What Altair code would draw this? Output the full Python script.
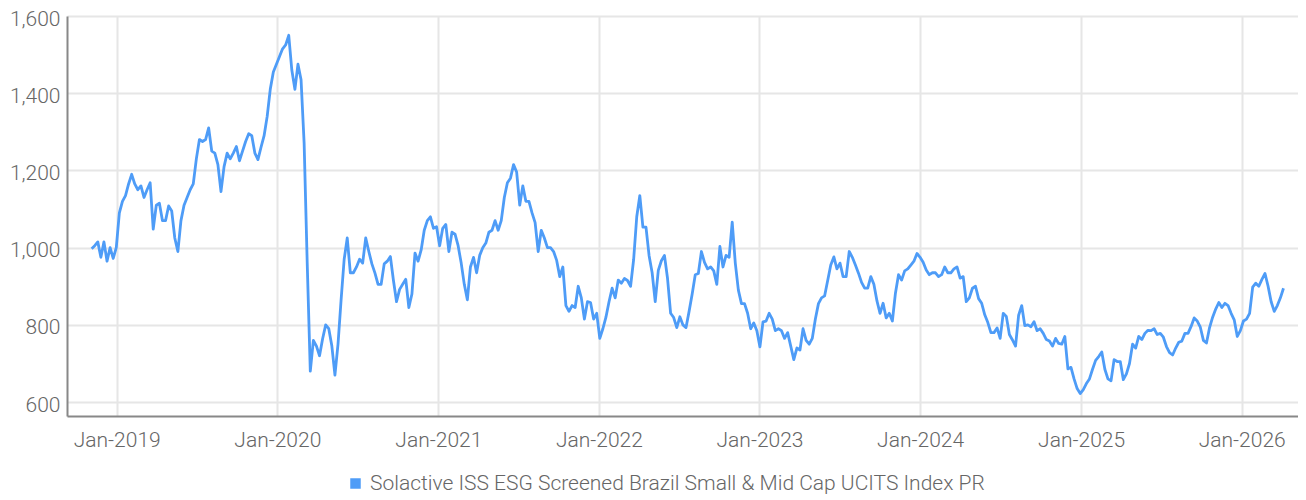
import altair as alt
import pandas as pd

series_name = "Solactive ISS ESG Screened Brazil Small & Mid Cap UCITS Index PR"
line_color = "#4e9cf7"

# weekly readings starting 2018-11-05
start_date = "2018-11-05"
step = "7D"

values_2018_2020 = [
    997, 1005, 1015, 975, 1015, 965, 1000, 972, 1000, 1090,
    1120, 1135, 1165, 1190, 1165, 1150, 1160, 1130, 1150, 1168,
    1048, 1110, 1115, 1070, 1070, 1108, 1095, 1025, 990, 1070,
    1110, 1130, 1150, 1165, 1230, 1280, 1275, 1280, 1310, 1250,
    1245, 1215, 1145, 1210, 1245, 1230, 1245, 1262, 1225, 1250,
    1275, 1295, 1290, 1245, 1228, 1260, 1290, 1340, 1410, 1455,
    1475, 1495, 1515, 1525, 1550, 1460, 1410, 1475,
]
values_2020_2021 = [
    1435, 1270, 960, 680, 760, 745, 720, 764, 800, 790,
    745, 670, 750, 865, 970, 1025, 935, 935, 950, 970,
    960, 1025, 990, 958, 934, 905, 905, 958, 965, 977,
    915, 860, 892, 905, 918, 845, 880, 986, 965, 994,
    1045, 1070, 1080, 1050, 1054, 1005, 1050, 1060, 990, 1040,
    1035, 1005, 960, 905, 865, 950, 975, 935, 980, 1000,
    1012, 1040, 1045, 1070, 1045, 1070, 1130,
]
values_2021_2023 = [
    1168, 1180, 1215, 1196, 1110, 1160, 1120, 1120, 1090, 1065,
    990, 1045, 1025, 1000, 1000, 990, 967, 925, 950, 850,
    835, 850, 845, 900, 870, 815, 860, 858, 815, 830,
    765, 790, 820, 860, 895, 870, 916, 908, 920, 915,
    900, 970, 1080, 1135, 1053, 1053, 980, 935, 860, 941,
    966, 980, 920, 830, 819, 793, 821, 800, 793, 835,
    880, 930, 933, 990, 962, 945, 950, 940, 905, 1003,
    950, 980, 975, 1066, 960, 890, 855, 855, 830, 790,
    805, 785, 743, 808, 810, 830, 815, 785, 790, 785,
    765, 780, 745, 710, 740, 735, 790, 760, 750, 765,
    815, 855, 870, 875, 915, 955, 976, 945, 960, 925,
    925, 990,
]
values_2023_2024 = [
    975, 955, 934, 910, 895, 895, 925, 905, 862, 830,
    856, 818, 830, 810, 882, 930, 916, 940, 945, 955,
    965,
    985, 975, 962, 942, 930, 935, 935, 925, 930, 950,
    935, 935, 945, 950, 921, 925, 860, 870, 895, 900,
    868, 856, 826, 806, 780, 780, 792, 765, 830, 822,
    775, 761, 745, 825, 850, 798, 800, 795, 808, 785,
    790, 778, 762, 758, 745, 765, 752, 750, 770, 686,
    690, 660, 635, 622, 632, 648, 660, 685, 708, 718,
    730, 685, 660,
]
values_2025_2026 = [
    655, 710, 705, 705, 658, 673, 700, 750, 740, 770,
    762, 778, 786, 785, 790, 775, 778, 768, 744, 728,
    722, 740, 755, 758, 778, 778, 796, 818, 810, 794,
    760, 753, 793, 820, 841, 858, 845, 856, 850, 830,
    813, 770, 785, 810, 815, 830, 898, 908, 900, 918,
    933, 900, 860, 835, 850, 870, 895,
]

y_ticks = [600, 800, 1000, 1200, 1400, 1600]
x_tick_years = [2019, 2020, 2021, 2022, 2023, 2024, 2025, 2026]

values = values_2018_2020 + values_2020_2021 + values_2021_2023 + values_2023_2024 + values_2025_2026
dates = pd.date_range(start_date, periods=len(values), freq=step)
df = pd.DataFrame({
    "date": dates.strftime("%Y-%m-%d"),
    "value": values,
    "series": series_name,
})

font = "Roboto"
label_color = "#666666"
fs = 21

chart = alt.Chart(df).mark_line(strokeWidth=2.8, strokeJoin="round").encode(
    x=alt.X(
        "date:T",
        title=None,
        scale=alt.Scale(domain=[alt.DateTime(year=2018, month=9, date=10),
                                alt.DateTime(year=2026, month=5, date=9)]),
        axis=alt.Axis(
            values=[alt.DateTime(year=y, month=1, date=1) for y in x_tick_years],
            format="%b-%Y",
            ticks=False,
            grid=True,
            gridColor="#e6e6e6",
            gridWidth=2,
            domainColor="#888888",
            domainWidth=2,
            labelFont=font,
            labelFontSize=fs,
            labelFontWeight=300,
            labelColor=label_color,
            labelPadding=13,
            labelFlush=False,
            labelOverlap=False,
        ),
    ),
    y=alt.Y(
        "value:Q",
        title=None,
        scale=alt.Scale(domain=[564, 1600], nice=False, zero=False),
        axis=alt.Axis(
            values=y_ticks,
            format=",d",
            ticks=False,
            grid=True,
            gridColor="#e6e6e6",
            gridWidth=2,
            domainColor="#888888",
            domainWidth=2,
            labelFont=font,
            labelFontSize=fs,
            labelFontWeight=300,
            labelColor=label_color,
            labelPadding=7,
            labelOffset=3,
        ),
    ),
    color=alt.Color(
        "series:N",
        scale=alt.Scale(domain=[series_name], range=[line_color]),
        legend=alt.Legend(
            title=None,
            orient="none",
            legendX=278,
            legendY=457,
            symbolType="square",
            symbolSize=110,
            symbolFillColor=line_color,
            symbolStrokeColor=line_color,
            symbolStrokeWidth=0,
            labelFont=font,
            labelFontSize=fs,
            labelFontWeight=300,
            labelColor=label_color,
            labelLimit=1000,
            labelOffset=4,
        ),
    ),
).properties(
    width=1231,
    height=400,
    autosize=alt.AutoSizeParams(type="none"),
    padding={"left": 59, "top": 8, "right": 0, "bottom": 84},
).configure_view(stroke=None)

chart.save("out.html", embed_options={"renderer": "svg", "actions": False})
